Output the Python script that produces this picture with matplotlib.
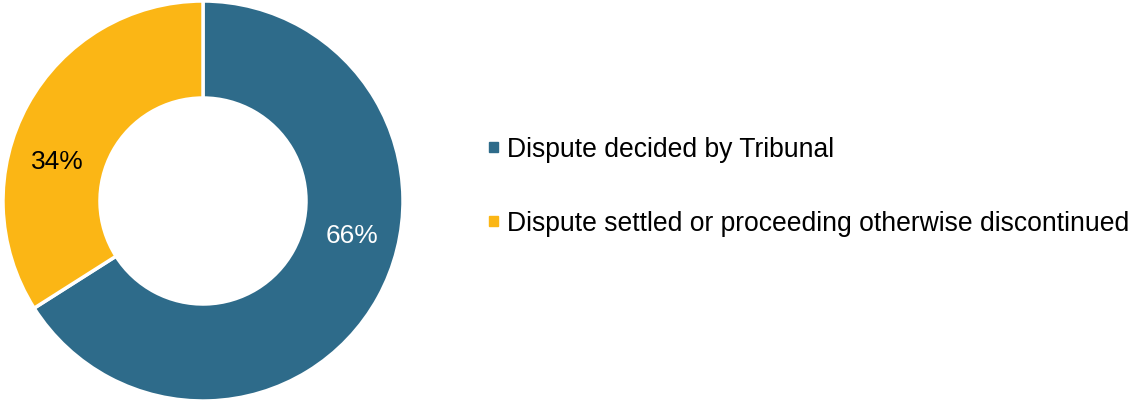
import matplotlib.pyplot as plt
from matplotlib.patches import Rectangle

plt.rcParams['font.family'] = ['Liberation Sans', 'DejaVu Sans']

labels = ['Dispute decided by Tribunal',
          'Dispute settled or proceeding otherwise discontinued']
values = [66, 34]
colors = ['#2E6B8A', '#FBB615']
pct_text_colors = ['white', 'black']

W, H = 1131, 402
fig = plt.figure(figsize=(W / 100, H / 100), dpi=100)

# donut
ax = fig.add_axes([3 / W, 0, 400 / W, 400 / H])
wedges, _ = ax.pie(values, colors=colors, startangle=90, counterclock=False,
                   radius=1, wedgeprops=dict(width=0.485, edgecolor='white', linewidth=2.5))
ax.set_xlim(-1, 1)
ax.set_ylim(-1, 1)
ax.set_aspect('equal')
ax.axis('off')

# percentage labels, placed like the original
pct_pos = [(0.745, -0.17), (-0.73, 0.2)]
for v, (x, y), c in zip(values, pct_pos, pct_text_colors):
    ax.text(x, y, f'{v}%', color=c, fontsize=19, ha='center', va='center')

# legend
row_y = [148, 222]
for lab, col, y in zip(labels, colors, row_y):
    fig.patches.append(Rectangle((489 / W, (H - y - 5) / H), 9 / W, 10 / H,
                                 transform=fig.transFigure, color=col))
    fig.text(507 / W, (H - y - 2) / H, lab, fontsize=19.1, va='center', ha='left')

fig.savefig('out.png', dpi=100)
